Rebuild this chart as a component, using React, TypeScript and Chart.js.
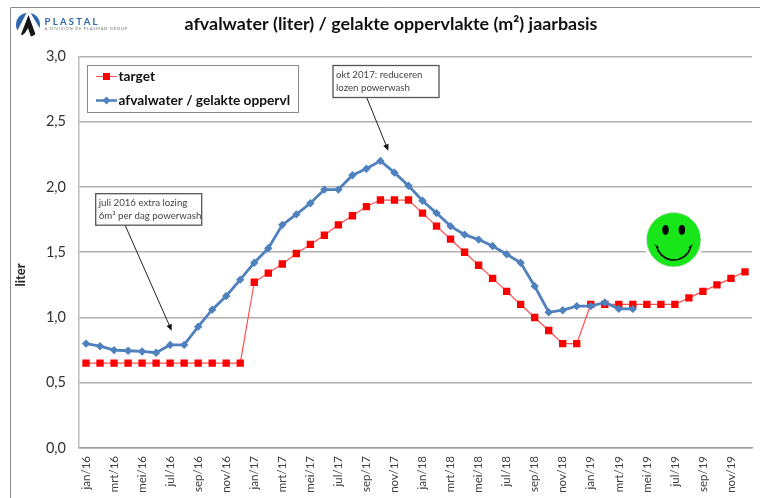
import React, { useEffect, useRef } from "react";
import { Chart, registerables } from "chart.js";

Chart.register(...registerables);

const monthNames = ["jan", "feb", "mrt", "apr", "mei", "jun", "jul", "aug", "sep", "okt", "nov", "dec"];
const years = ["16", "17", "18", "19"];
const categories = years.flatMap((y) => monthNames.map((m) => `${m}/${y}`));

const targetValues = [
  0.65, 0.65, 0.65, 0.65, 0.65, 0.65, 0.65, 0.65, 0.65, 0.65, 0.65, 0.65,
  1.27, 1.34, 1.41, 1.49, 1.56, 1.63, 1.71, 1.78, 1.85, 1.9, 1.9, 1.9,
  1.8, 1.7, 1.6, 1.5, 1.4, 1.3, 1.2, 1.1, 1.0, 0.9, 0.8, 0.8,
  1.1, 1.1, 1.1, 1.1, 1.1, 1.1, 1.1, 1.15, 1.2, 1.25, 1.3, 1.35,
];
const wasteValues = [
  0.8, 0.78, 0.75, 0.745, 0.74, 0.73, 0.79, 0.79, 0.93, 1.06, 1.165, 1.29,
  1.42, 1.53, 1.71, 1.79, 1.875, 1.98, 1.98, 2.09, 2.14, 2.2, 2.11, 2.01,
  1.895, 1.8, 1.7, 1.635, 1.597, 1.548, 1.485, 1.42, 1.24, 1.04, 1.056, 1.087,
  1.087, 1.115, 1.066, 1.066, null, null, null, null, null, null, null, null,
];

const titleText = "afvalwater (liter) / gelakte oppervlakte (m²) jaarbasis";
const yAxisLabel = "liter";
const targetLabel = "target";
const wasteLabel = "afvalwater / gelakte oppervl";
const note2016 = ["juli 2016 extra lozing", "6m³ per dag powerwash"];
const note2017 = ["okt 2017: reduceren", "lozen powerwash"];
const logoName = "PLASTAL";
const logoSub = "A DIVISION OF PLASMAN GROUP";

const FONT = "Lato, Carlito, sans-serif";
const RED = "#ff0000";
const BLUE = "#4f81bd";

function arrow(ctx: CanvasRenderingContext2D, x0: number, y0: number, x1: number, y1: number) {
  const a = Math.atan2(y1 - y0, x1 - x0);
  ctx.strokeStyle = "#222";
  ctx.fillStyle = "#111";
  ctx.lineWidth = 1;
  ctx.beginPath();
  ctx.moveTo(x0, y0);
  ctx.lineTo(x1 - 4 * Math.cos(a), y1 - 4 * Math.sin(a));
  ctx.stroke();
  ctx.beginPath();
  ctx.moveTo(x1, y1);
  ctx.lineTo(x1 - 7 * Math.cos(a - 0.42), y1 - 7 * Math.sin(a - 0.42));
  ctx.lineTo(x1 - 7 * Math.cos(a + 0.42), y1 - 7 * Math.sin(a + 0.42));
  ctx.closePath();
  ctx.fill();
}

function noteBox(ctx: CanvasRenderingContext2D, x: number, y: number, w: number, h: number, lines: string[]) {
  ctx.fillStyle = "#fff";
  ctx.fillRect(x, y, w, h);
  ctx.strokeStyle = "#555";
  ctx.lineWidth = 1.3;
  ctx.strokeRect(x, y, w, h);
  ctx.fillStyle = "#444";
  ctx.font = `9.7px ${FONT}`;
  ctx.textAlign = "left";
  ctx.textBaseline = "middle";
  lines.forEach((t, i) => ctx.fillText(t, x + 3, y + 9.5 + i * 12.5));
}

function legendRow(ctx: CanvasRenderingContext2D, y: number, label: string, color: string, lw: number, diamond: boolean) {
  ctx.strokeStyle = diamond ? color : "#ff5050";
  ctx.lineWidth = lw;
  ctx.beginPath();
  ctx.moveTo(96, y);
  ctx.lineTo(117, y);
  ctx.stroke();
  ctx.fillStyle = color;
  if (diamond) {
    ctx.beginPath();
    ctx.moveTo(106.5, y - 4);
    ctx.lineTo(110.5, y);
    ctx.lineTo(106.5, y + 4);
    ctx.lineTo(102.5, y);
    ctx.closePath();
    ctx.fill();
  } else {
    ctx.fillRect(103, y - 3.5, 7, 7);
  }
  ctx.fillStyle = "#111";
  ctx.font = `bold 13.7px ${FONT}`;
  ctx.textAlign = "left";
  ctx.textBaseline = "middle";
  ctx.fillText(label, 118.5, y);
}

function logo(ctx: CanvasRenderingContext2D) {
  const cx = 28;
  const cy = 24.7;
  ctx.save();
  ctx.beginPath();
  ctx.arc(cx, cy, 12, 0, Math.PI * 2);
  ctx.clip();
  ctx.fillStyle = "#2f67ad";
  ctx.beginPath();
  ctx.moveTo(14, 37);
  ctx.lineTo(27, 12);
  ctx.lineTo(19, 12);
  ctx.lineTo(14, 22);
  ctx.closePath();
  ctx.fill();
  ctx.beginPath();
  ctx.moveTo(30, 12);
  ctx.lineTo(42, 12);
  ctx.lineTo(42, 32);
  ctx.closePath();
  ctx.fill();
  ctx.fillStyle = "#161616";
  ctx.beginPath();
  ctx.moveTo(28.5, 15);
  ctx.lineTo(36.5, 37);
  ctx.lineTo(31, 37);
  ctx.lineTo(28, 28);
  ctx.lineTo(25, 33);
  ctx.lineTo(20, 37);
  ctx.closePath();
  ctx.fill();
  ctx.restore();

  const c = ctx as any;
  ctx.textAlign = "left";
  ctx.textBaseline = "middle";
  ctx.fillStyle = "#2f67ad";
  ctx.font = `bold 9.5px ${FONT}`;
  c.letterSpacing = "2.3px";
  ctx.fillText(logoName, 44.5, 22);
  ctx.fillStyle = "#777";
  ctx.font = `4.2px ${FONT}`;
  c.letterSpacing = "0.65px";
  ctx.fillText(logoSub, 44.5, 29);
  c.letterSpacing = "0px";
}

function smiley(ctx: CanvasRenderingContext2D) {
  const cx = 673.7;
  const cy = 239.7;
  ctx.fillStyle = "#fff";
  ctx.beginPath();
  ctx.arc(cx, cy, 30, 0, Math.PI * 2);
  ctx.fill();
  ctx.fillStyle = "#19e619";
  ctx.strokeStyle = "#d9e0d9";
  ctx.lineWidth = 1;
  ctx.beginPath();
  ctx.arc(cx, cy, 27.3, 0, Math.PI * 2);
  ctx.fill();
  ctx.stroke();
  ctx.fillStyle = "#000";
  [-8.2, 8.2].forEach((dx) => {
    ctx.beginPath();
    ctx.ellipse(cx + dx, cy - 9.8, 3.2, 4.8, 0, 0, Math.PI * 2);
    ctx.fill();
  });
  ctx.strokeStyle = "#000";
  ctx.lineWidth = 1.5;
  ctx.beginPath();
  ctx.arc(cx, cy + 2.8, 17.5, 0.2, Math.PI - 0.2);
  ctx.stroke();
  ctx.lineWidth = 1;
  [-1, 1].forEach((s) => {
    ctx.beginPath();
    ctx.moveTo(cx + s * 19, cy + 5);
    ctx.lineTo(cx + s * 15, cy + 8);
    ctx.stroke();
  });
}

const decorations = {
  id: "decorations",
  afterDraw(chart: any) {
    const ctx: CanvasRenderingContext2D = chart.ctx;
    ctx.save();
    // outer frame (left and top edges)
    ctx.strokeStyle = "#8c8c8c";
    ctx.lineWidth = 1;
    ctx.beginPath();
    ctx.moveTo(10.5, 498);
    ctx.lineTo(10.5, 7.5);
    ctx.lineTo(760, 7.5);
    ctx.stroke();

    logo(ctx);

    // y axis label
    ctx.save();
    ctx.translate(21, 275);
    ctx.rotate(-Math.PI / 2);
    ctx.fillStyle = "#222";
    ctx.font = `bold 13px ${FONT}`;
    ctx.textAlign = "center";
    ctx.textBaseline = "middle";
    ctx.fillText(yAxisLabel, 0, 0);
    ctx.restore();

    // legend
    ctx.fillStyle = "#fff";
    ctx.fillRect(87.5, 65.5, 211, 47);
    ctx.strokeStyle = "#8a8a8a";
    ctx.lineWidth = 1;
    ctx.strokeRect(87.5, 65.5, 211, 47);
    legendRow(ctx, 76.5, targetLabel, RED, 1, false);
    legendRow(ctx, 100.5, wasteLabel, BLUE, 2.5, true);

    // notes
    arrow(ctx, 125, 225, 171.7, 330.7);
    noteBox(ctx, 95.7, 193.7, 106, 31.5, note2016);
    arrow(ctx, 366.7, 97.5, 388.3, 150.7);
    noteBox(ctx, 333, 65.5, 106, 32, note2017);

    smiley(ctx);
    ctx.restore();
  },
};

export default function App() {
  const ref = useRef<HTMLCanvasElement | null>(null);
  useEffect(() => {
    const chart = new Chart(ref.current as HTMLCanvasElement, {
      type: "line",
      data: {
        labels: categories,
        datasets: [
          {
            label: targetLabel,
            data: targetValues,
            borderColor: "#ff5050",
            backgroundColor: RED,
            borderWidth: 1.2,
            pointStyle: "rect",
            pointRadius: 5.2,
            pointBackgroundColor: RED,
            pointBorderColor: RED,
            pointBorderWidth: 0,
            tension: 0,
            order: 2,
          },
          {
            label: wasteLabel,
            data: wasteValues,
            borderColor: BLUE,
            backgroundColor: BLUE,
            borderWidth: 2.8,
            pointStyle: "rectRot",
            pointRadius: 4.2,
            pointBackgroundColor: BLUE,
            pointBorderColor: BLUE,
            pointBorderWidth: 0,
            tension: 0,
            spanGaps: false,
            order: 1,
          },
        ],
      },
      options: {
        animation: false,
        responsive: false,
        devicePixelRatio: 1,
        layout: { autoPadding: false, padding: { left: 30, right: 8, top: 0, bottom: 0 } },
        plugins: {
          legend: { display: false },
          tooltip: { enabled: false },
          title: {
            display: true,
            text: titleText,
            color: "#111",
            font: { family: FONT, size: 17.9, weight: "bold" },
            padding: { top: 13, bottom: 22 },
          },
        },
        scales: {
          x: {
            type: "category",
            offset: true,
            afterFit: (s: any) => {
              s.height = 50;
              s.paddingLeft = 0;
              s.paddingRight = 0;
            },
            grid: { display: false, drawTicks: false },
            border: { color: "#a0a0a0", width: 1.5 },
            ticks: {
              autoSkip: false,
              minRotation: 90,
              maxRotation: 90,
              padding: 8,
              color: "#404040",
              font: { family: FONT, size: 11.5 },
              callback: (_v: any, i: number) => (i % 2 === 0 ? categories[i] : ""),
            },
          },
          y: {
            min: 0,
            max: 3,
            afterFit: (s: any) => {
              s.width = 49;
            },
            grid: { color: "#b0b0b0", lineWidth: 1.5, drawTicks: false },
            border: { color: "#bdbdbd", width: 1.5 },
            ticks: {
              stepSize: 0.5,
              padding: 13,
              color: "#333",
              font: { family: FONT, size: 14.5 },
              callback: (v: any) => Number(v).toFixed(1).replace(".", ","),
            },
          },
        },
      },
      plugins: [decorations],
    } as any);
    return () => chart.destroy();
  }, []);
  return (
    <div style={{ position: "fixed", left: 0, top: 0, width: 760, height: 498, background: "#fff", overflow: "hidden" }}>
      <canvas ref={ref} width={760} height={498} style={{ display: "block", filter: "blur(0.4px)" }} />
    </div>
  );
}
